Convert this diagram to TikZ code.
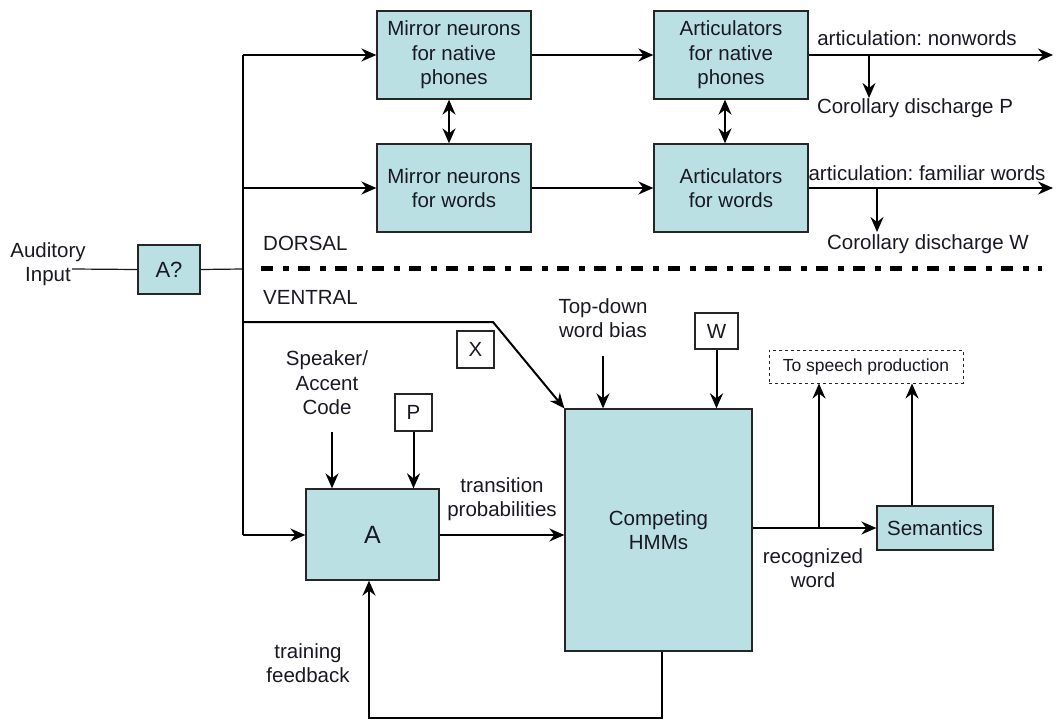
\documentclass[tikz,border=0pt]{standalone}
\usepackage{fontspec}
\setmainfont{Liberation Sans}
\usetikzlibrary{arrows.meta,calc}
\definecolor{boxfill}{RGB}{186,224,227}
\definecolor{txt}{RGB}{25,25,35}
\frenchspacing
\begin{document}
\begin{tikzpicture}[x=1pt,y=-1pt,
  every node/.style={font=\fontsize{20.5}{24.5}\selectfont, text=txt, inner sep=0pt},
  bluebox/.style={draw=black!85, fill=boxfill, line width=1.3pt, align=center},
  letterbox/.style={draw=black!85, fill=white, line width=1.2pt, minimum width=37pt, minimum height=37pt},
  lbl/.style={align=center},
  conn/.style={line width=2pt, draw=black},
  thin/.style={line width=1.2pt, draw=black!90},
  tip/.tip={Stealth[length=15pt,width=13pt,inset=5pt]},
  arr/.style={conn, -tip},
  darr/.style={conn, tip-tip},
  sep/.style={line width=5pt, dash pattern=on 12pt off 10pt on 5.5pt off 9.5pt}
]
\useasboundingbox (0,0) rectangle (1056,722);

% boxes
\node[bluebox, minimum width=62pt, minimum height=49pt, font=\fontsize{22}{26}\selectfont] (aq) at (169,269.5) {A?};
\node[bluebox, minimum width=154pt, minimum height=88pt] (mn1) at (454,55) {Mirror neurons\\for native\\phones};
\node[bluebox, minimum width=154pt, minimum height=88pt] (mn2) at (454,188) {Mirror neurons\\for words};
\node[bluebox, minimum width=154pt, minimum height=88pt] (ar1) at (731,55) {Articulators\\for native\\phones};
\node[bluebox, minimum width=154pt, minimum height=88pt] (ar2) at (731,188) {Articulators\\for words};
\node[bluebox, minimum width=187pt, minimum height=242pt] (hmm) at (658.5,530) {Competing\\HMMs};
\node[bluebox, minimum width=133pt, minimum height=91pt, font=\fontsize{25}{30}\selectfont] (A) at (372.5,534.5) {A};
\node[bluebox, minimum width=116pt, minimum height=44pt] (sem) at (935,528) {Semantics};
\node[letterbox] (P) at (413.5,412.5) {P};
\node[letterbox, minimum width=43pt, minimum height=36pt] (W) at (716.5,331) {W};
\node[letterbox] (X) at (475.5,349.5) {X};
\node[draw=black!85, dashed, line width=1pt, minimum width=194pt, minimum height=33pt, font=\fontsize{17.5}{21}\selectfont] (sp) at (866,366.5) {To speech production};

% labels
\node[lbl] (ai) at (48,264) {Auditory\\Input};
\node[anchor=west] (dorsal) at (263,243) {DORSAL};
\node[anchor=west] (ventral) at (263,297) {VENTRAL};
\node (an) at (917,38) {articulation: nonwords};
\node (cdp) at (915,108) {Corollary discharge P};
\node (af) at (927,173) {articulation: familiar words};
\node (cdw) at (928,244) {Corollary discharge W};
\node[lbl] (spk) at (327,383) {Speaker/\\Accent\\Code};
\node[lbl] (td) at (603,318) {Top-down\\word bias};
\node[lbl] (tp) at (502,499) {transition\\probabilities};
\node[lbl] (rw) at (813,568) {recognized\\word};
\node[lbl] (tf) at (308,663) {training\\feedback};

% coordinates
\coordinate (ain) at (72,269);
\coordinate (j) at (243,269);
\coordinate (stop) at (243,55);
\coordinate (s2) at (243,188);
\coordinate (sv) at (243,322);
\coordinate (sbot) at (243,535);
\coordinate (bend) at (493,322);
\coordinate (e1) at (1053,55);
\coordinate (e2) at (1053,188);
\coordinate (b1) at (869,55);
\coordinate (b1e) at (869,98);
\coordinate (b2) at (877,188);
\coordinate (b2e) at (877,232);
\coordinate (sepL) at (261,268);
\coordinate (sepR) at (1042,268);
\coordinate (tdS) at (603,356);
\coordinate (spkS) at (332,432);
\coordinate (rb) at (819,528);
\coordinate (fb1) at (662,718);
\coordinate (fb2) at (369,718);

% connectors
\draw[thin] (ain) -- (aq.west);
\draw[thin] (aq.east) -- (j);
\draw[conn] (stop) -- (sbot);
\draw[arr] (stop) -- (mn1.west);
\draw[arr] (s2) -- (mn2.west);
\draw[arr] (mn1.east) -- (ar1.west);
\draw[arr] (mn2.east) -- (ar2.west);
\draw[darr] ($(mn1.south)+(-5,0)$) -- ($(mn2.north)+(-5,0)$);
\draw[darr] ($(ar1.south)+(-6,0)$) -- ($(ar2.north)+(-6,0)$);
\draw[arr] (ar1.east) -- (e1);
\draw[arr] (b1) -- (b1e);
\draw[arr] (ar2.east) -- (e2);
\draw[arr] (b2) -- (b2e);
\draw[sep] (sepL) -- (sepR);
\draw[arr] (sv) -- (bend) -- (hmm.north west);
\draw[arr] (sbot) -- (sbot -| A.west);
\draw[arr] (spkS) -- (spkS |- A.north);
\draw[arr] (P.south) -- (P.south |- A.north);
\draw[arr] (A.east |- sbot) -- (hmm.west |- sbot);
\draw[arr] (tdS) -- (tdS |- hmm.north);
\draw[arr] (W.south) -- (W.south |- hmm.north);
\draw[arr] (hmm.east |- sem) -- (sem.west);
\draw[arr] (rb) -- (rb |- sp.south);
\draw[arr] (sem.north -| 912,0) -- (sp.south -| 912,0);
\draw[arr] (hmm.south -| fb1) -- (fb1) -- (fb2) -- (fb2 |- A.south);
\end{tikzpicture}
\end{document}
